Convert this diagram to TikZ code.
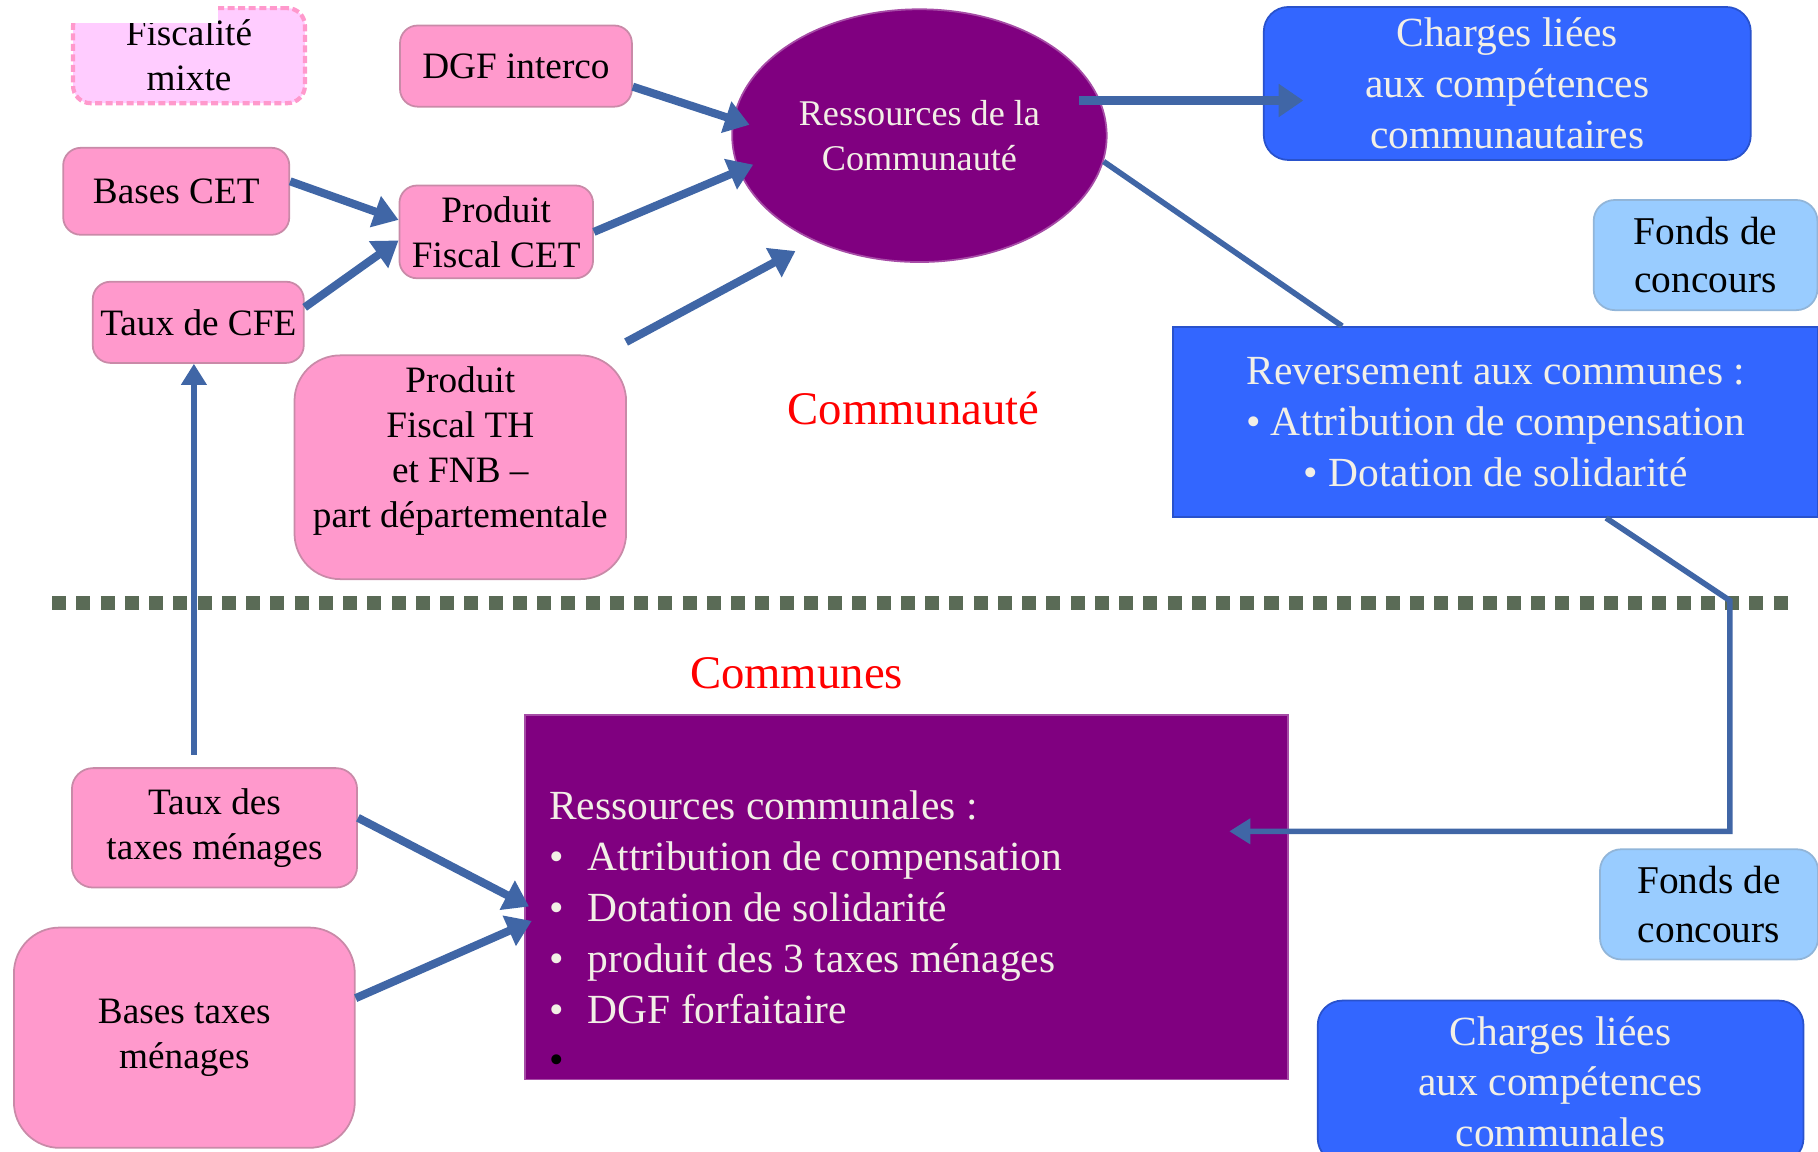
\documentclass[tikz,border=0pt]{standalone}
\usepackage{fontspec}
\setmainfont{Liberation Serif}
\usepackage{tikz}
\usetikzlibrary{arrows.meta, shapes.geometric}

\definecolor{cRose}{HTML}{FF99CC}
\definecolor{cRoseBord}{HTML}{C98AA8}
\definecolor{cRoseClair}{HTML}{FFCCFF}
\definecolor{cMauve}{HTML}{800080}
\definecolor{cBleu}{HTML}{3366FF}
\definecolor{cBleuClair}{HTML}{99CCFF}
\definecolor{cFleche}{HTML}{4066A6}
\definecolor{cPoint}{HTML}{5A6B56}
\definecolor{cTexte}{HTML}{F2EFE6}

\newdimen\pxu \pxu=0.011594cm
\newcommand{\puce}{\makebox[11pt][l]{\textbullet}}

\tikzset{
  boite/.style={rectangle, inner sep=0pt, align=center},
  boiterose/.style={boite, rounded corners=5pt, fill=cRose, draw=cRoseBord, line width=0.5pt,
    font=\fontsize{10.6}{12.8}\selectfont},
  boitebleue/.style={boite, fill=cBleu, draw=cBleu!80!black, line width=0.5pt, text=cTexte,
    font=\fontsize{11.8}{14.5}\selectfont},
  boitefonds/.style={boite, rounded corners=6pt, fill=cBleuClair, draw=cBleuClair!70!gray, line width=0.5pt,
    font=\fontsize{11.2}{13.8}\selectfont},
  titre/.style={text=red, font=\fontsize{13.3}{16}\selectfont},
  fleche/.style={draw=cFleche, line width=2.3pt, -{Triangle[length=7pt,width=9pt]}},
  filet/.style={draw=cFleche, line width=1.6pt},
  flechefine/.style={filet, -{Triangle[length=6pt,width=7pt]}}
}

\begin{document}
\begin{tikzpicture}[x=0.011594cm, y=-0.011594cm]
    \useasboundingbox (0,0) rectangle (1568,993);
    % communaute
    \node[boiterose, fill=cRoseClair, draw=cRose, line width=1.2pt, dash pattern=on 2pt off 1pt,
      minimum width=200\pxu, minimum height=82\pxu] (fm) at (163,48) {Fiscalité\\mixte};
    \fill[white] (0,0) rectangle (188,20);
    \node[boiterose, minimum width=200\pxu, minimum height=70\pxu] (dgf) at (445,57) {DGF interco};
    \node[boiterose, minimum width=195\pxu, minimum height=75\pxu] (bcet) at (152,165) {Bases CET};
    \node[boiterose, minimum width=167\pxu, minimum height=80\pxu] (pcet) at (428,200) {Produit\\Fiscal CET};
    \node[boiterose, minimum width=182\pxu, minimum height=70\pxu] (tcfe) at (171,278) {Taux de CFE};
    \node[boiterose, rounded corners=13pt, text depth=11.5pt, minimum width=286\pxu, minimum height=193\pxu] (pth) at (397,403)
      {Produit\\Fiscal TH\\et FNB –\\part départementale};
    \node[ellipse, fill=cMauve, draw=cMauve!70!white, line width=0.5pt, inner sep=0pt, align=center,
      text=cTexte, font=\fontsize{10.3}{12.8}\selectfont,
      minimum width=323\pxu, minimum height=218\pxu] (rc) at (793,117) {Ressources de la\\Communauté};
    \node[boitebleue, rounded corners=7pt, minimum width=420\pxu, minimum height=132\pxu] (chc) at (1300,72)
      {Charges liées\\aux compétences\\communautaires};
    \node[boitefonds, minimum width=193\pxu, minimum height=95\pxu] (fc1) at (1471,220) {Fonds de\\concours};
    \node[boitebleue, minimum width=556\pxu, minimum height=164\pxu] (rev) at (1290,364)
      {Reversement aux communes :\\\textbullet{} Attribution de compensation\\\textbullet{} Dotation de solidarité};
    \node[titre] (lcte) at (788,352) {Communauté};
    % separation
    \draw[cPoint, line width=4pt, dash pattern=on 4pt off 2.9pt] (45,520) -- (1550,520);
    % communes
    \node[titre] (lcom) at (687,581) {Communes};
    \node[boiterose, rounded corners=6pt, minimum width=246\pxu, minimum height=103\pxu] (tm) at (185,714)
      {Taux des\\taxes ménages};
    \node[boiterose, rounded corners=13pt, minimum width=294\pxu, minimum height=190\pxu] (btm) at (159,895)
      {Bases taxes\\ménages};
    \node[rectangle, fill=cMauve, draw=cMauve!70!white, line width=0.5pt,
      minimum width=658\pxu, minimum height=314\pxu] (rcom) at (782,774) {};
    \node[anchor=west, inner sep=0pt, align=left, text=cTexte, font=\fontsize{11.8}{14.5}\selectfont] (rcomtxt) at (473,804)
      {Ressources communales :\\\puce Attribution de compensation\\\puce Dotation de solidarité\\
       \puce produit des 3 taxes ménages\\\puce DGF forfaitaire\\{\color{black}\textbullet}};
    \node[boitefonds, minimum width=188\pxu, minimum height=95\pxu] (fc2) at (1474,780) {Fonds de\\concours};
    \node[boitebleue, rounded corners=7pt, minimum width=419\pxu, minimum height=140\pxu] (chm) at (1346,933)
      {Charges liées\\aux compétences\\communales};
    % fleches
    \coordinate (pthdep) at (540,295);
    \coordinate (coude1) at (1492,518);
    \coordinate (coude2) at (1492,717);
    \draw[fleche, shorten >=-5pt] (dgf.-10) -- (rc.175);
    \draw[fleche] (bcet.5) -- (pcet.173);
    \draw[fleche] (tcfe.8) -- (pcet.185);
    \draw[fleche, shorten >=-4.5pt] (pcet.east) -- (rc.191);
    \draw[fleche, shorten >=6pt] (pthdep) -- (rc.225);
    \draw[fleche, shorten <=-6pt, shorten >=-11.5pt] (rc.11) -- (chc.west |- rc.11);
    \draw[filet] (rc.-8) -- (rev.148);
    \draw[flechefine, shorten >=-17pt] (rev.-41) -- (coude1) -- (coude2) -- (rcom.east |- coude2);
    \draw[flechefine, shorten <=3.6pt] (tcfe.-96 |- tm.north) -- (tcfe.-96);
    \draw[fleche, shorten >=-1.5pt] (tm.4) -- (rcom.181);
    \draw[fleche, shorten >=-2.3pt] (btm.13) -- (rcom.184);
\end{tikzpicture}
\end{document}
